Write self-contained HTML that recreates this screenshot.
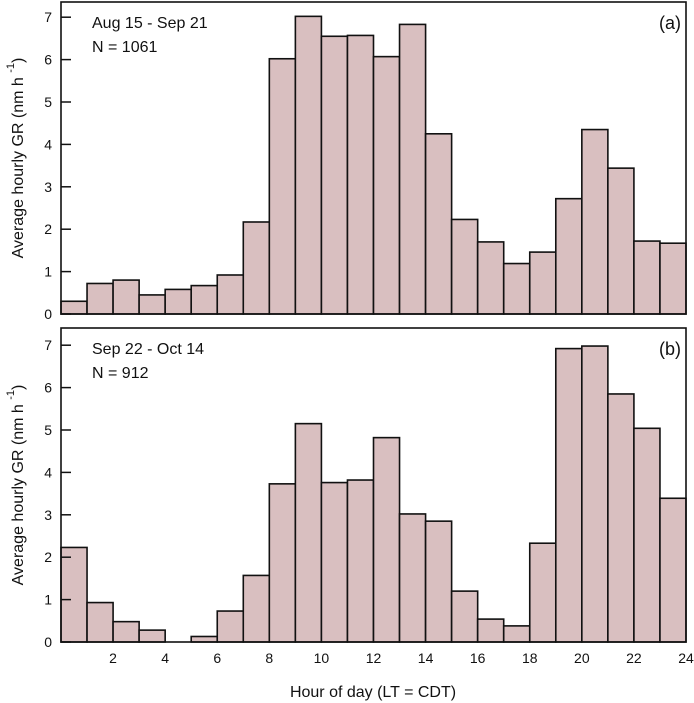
<!DOCTYPE html>
<html><head><meta charset="utf-8"><style>
body{margin:0;background:#fff}
svg{display:block;font-family:"Liberation Sans",sans-serif}
</style></head><body>
<svg id="c" width="694" height="703" viewBox="0 0 694 703"></svg>
<script>
const hours = [0,1,2,3,4,5,6,7,8,9,10,11,12,13,14,15,16,17,18,19,20,21,22,23];
const seriesA = [0.3,0.72,0.8,0.45,0.58,0.67,0.92,2.17,6.02,7.02,6.55,6.57,6.07,6.83,4.25,2.23,1.70,1.19,1.46,2.72,4.35,3.44,1.72,1.67];
const seriesB = [2.23,0.93,0.48,0.28,0,0.13,0.73,1.57,3.73,5.15,3.76,3.82,4.82,3.02,2.85,1.20,0.54,0.38,2.33,6.92,6.98,5.85,5.04,3.39];
const yTicks = [0,1,2,3,4,5,6,7];
const xTicks = [2,4,6,8,10,12,14,16,18,20,22,24];
const NS="http://www.w3.org/2000/svg";
const svg=document.getElementById('c');
function mk(t,a,p){const e=document.createElementNS(NS,t);for(const k in a)e.setAttribute(k,a[k]);(p||svg).appendChild(e);return e;}
const L=61,R=686;
const panels=[
 {data:seriesA,top:2,zero:314,label:"(a)",l1:"Aug 15 - Sep 21",l2:"N = 1061",name:"panel-a"},
 {data:seriesB,top:328,zero:642,label:"(b)",l1:"Sep 22 - Oct 14",l2:"N = 912",name:"panel-b"}
];
const x=h=>L+(R-L)*h/24;
panels.forEach((p,pi)=>{
 const y=v=>p.zero-v*42.4;
 const g=mk('g',{});
 
 
 p.data.forEach((v,i)=>{
  const r=mk('rect',{x:x(hours[i]),y:y(v),width:x(hours[i]+1)-x(hours[i]),height:p.zero-y(v),fill:'#d9bfc0',stroke:'#111','stroke-width':1.6},g);
  
  
 });
 const f=mk('rect',{x:L,y:p.top,width:R-L,height:p.zero-p.top,fill:'none',stroke:'#111','stroke-width':1.6},g);
 
 
 yTicks.forEach(t=>{
  mk('line',{x1:L,x2:L+10,y1:y(t),y2:y(t),stroke:'#111','stroke-width':1.5},g);
  const tx=mk('text',{x:L-9,y:y(t)+5,'font-size':14,'text-anchor':'end',fill:'#111'},g);
  tx.textContent=t;
  
  
 });
 const a=mk('text',{x:681,y:p.top+27,'font-size':18,'text-anchor':'end',fill:'#111'},g);a.textContent=p.label;
 
 
 const t1=mk('text',{x:92,y:p.top+26,'font-size':16,fill:'#111'},g);t1.textContent=p.l1;
 
 
 const t2=mk('text',{x:92,y:p.top+50,'font-size':16,fill:'#111'},g);t2.textContent=p.l2;
 
 
 const yt=mk('text',{transform:`translate(23,${(p.top+p.zero)/2}) rotate(-90)`,'font-size':16,'text-anchor':'middle',fill:'#111'},g);
 yt.innerHTML='Average hourly GR (nm h <tspan dy="-9" font-size="11">-1</tspan><tspan dy="9">)</tspan>';
 
 
});
xTicks.forEach(t=>{
 const tx=mk('text',{x:x(t),y:663,'font-size':14,'text-anchor':'middle',fill:'#111'});
 tx.textContent=t;
 
 
});
const xt=mk('text',{x:373,y:697,'font-size':16,'text-anchor':'middle',fill:'#111'});
xt.textContent='Hour of day (LT = CDT)';


</script>
</body></html>
